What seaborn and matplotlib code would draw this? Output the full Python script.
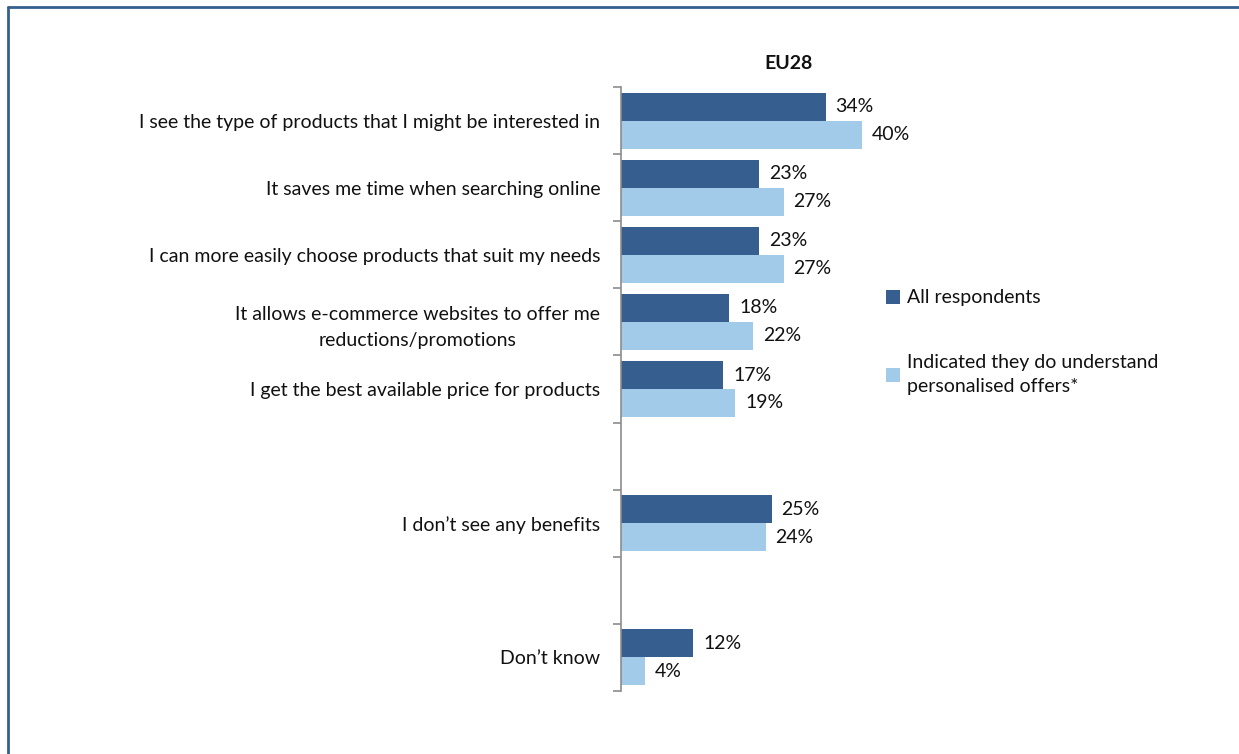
import matplotlib
matplotlib.use("Agg")
import matplotlib.pyplot as plt
from matplotlib.lines import Line2D
from matplotlib.patches import Patch
import seaborn as sns
import pandas as pd

# Reasons, in display order; blank entries keep empty rows between groups
categories = [
    "I see the type of products that I might be interested in",
    "It saves me time when searching online",
    "I can more easily choose products that suit my needs",
    "It allows e-commerce websites to offer me\nreductions/promotions",
    "I get the best available price for products",
    " ",
    "I don\u2019t see any benefits",
    "  ",
    "Don\u2019t know",
]
benefit_labels = [c for c in categories if c.strip()]
all_respondents = [34, 23, 23, 18, 17, 25, 12]
understand_offers = [40, 27, 27, 22, 19, 24, 4]
series_names = ["All respondents", "Indicated they do understand\npersonalised offers*"]
colors = ["#365f8f", "#a2cbe9"]

df = pd.DataFrame({
    "reason": benefit_labels * 2,
    "value": all_respondents + understand_offers,
    "group": [series_names[0]] * len(benefit_labels) + [series_names[1]] * len(benefit_labels),
})

sns.set_theme(style="white")
plt.rcParams["font.family"] = ["Lato", "DejaVu Sans"]

FS = 14
W, H = 1239, 754
fig = plt.figure(figsize=(W / 100, H / 100), dpi=100)
ax = fig.add_axes([621 / W, (H - 691) / H, (957 - 621) / W, (691 - 87) / H])

sns.barplot(data=df, x="value", y="reason", hue="group", order=categories,
            hue_order=series_names, palette=colors, width=0.834, orient="h",
            saturation=1, linewidth=0, legend=False, ax=ax)

for cont in ax.containers:
    ax.bar_label(cont, fmt="%.0f%%", padding=7, fontsize=FS, color="#111111")

ax.set_xlim(0, 55.8)
ax.set_ylim(len(categories) - 0.5, -0.5)
ax.set_xlabel("")
ax.set_ylabel("")
ax.set_xticks([])
for s in ["top", "right", "bottom"]:
    ax.spines[s].set_visible(False)
ax.spines["left"].set_color("#8c8c8c")
ax.spines["left"].set_linewidth(1.2)

ax.set_yticks(range(len(categories)))
ax.set_yticklabels(categories, fontsize=FS, color="#111111",
                   multialignment="center", linespacing=1.6)
ax.tick_params(axis="y", which="major", length=0, pad=15)
ax.set_yticks([i - 0.5 for i in range(len(categories) + 1)], minor=True)
ax.tick_params(axis="y", which="minor", length=6, width=1.2, color="#8c8c8c", left=True)

ax.set_title("EU28", fontsize=14, fontweight="bold", pad=13, color="#111111")

handles = [Patch(facecolor=c, edgecolor="none") for c in colors]
leg = fig.legend(handles, series_names, loc="upper left",
                 bbox_to_anchor=(868 / W, (H - 272) / H),
                 frameon=False, fontsize=FS, handlelength=0.75, handleheight=0.75,
                 handletextpad=0.35, labelspacing=2.45)
for t in leg.get_texts():
    t.set_linespacing(1.5)
    t.set_color("#111111")

# Frame lines along the top and left edges
fig.add_artist(Line2D([8 / W, 1], [(H - 7) / H] * 2, color="#36608f", lw=2))
fig.add_artist(Line2D([8 / W] * 2, [0, (H - 7) / H], color="#36608f", lw=2))

fig.savefig("out.png", dpi=100)
